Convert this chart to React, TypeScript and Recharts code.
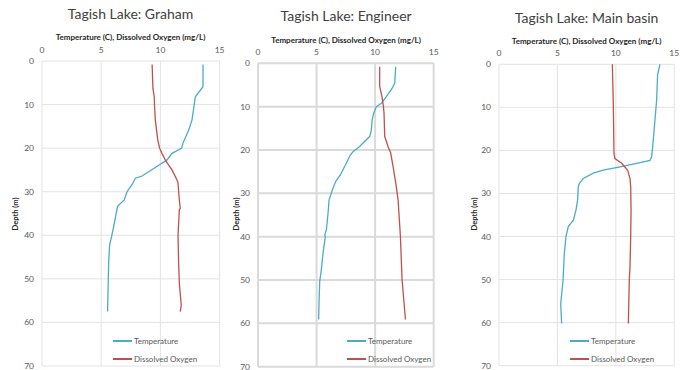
import { CartesianGrid, Line, LineChart, XAxis, YAxis } from 'recharts';

// [depth (m), value]
const grahamTemperature: [number, number][] = [
  [0.8, 13.6], [5.9, 13.6], [8.2, 12.95], [10, 12.86], [13.5, 12.67], [15.8, 12.4],
  [18.9, 11.9], [20, 11.8], [21.2, 10.98], [22.7, 10.56], [24.2, 9.7], [25.4, 9.0],
  [26.4, 8.45], [26.9, 7.88], [28.4, 7.6], [30, 7.18], [31.9, 6.95], [33.3, 6.39],
  [38, 6.05], [40, 5.9], [42.2, 5.71], [46.4, 5.63], [57.5, 5.54],
];
const grahamOxygen: [number, number][] = [
  [0.8, 9.3], [6.3, 9.37], [8.2, 9.48], [10, 9.5], [13.5, 9.57], [18, 9.77], [20, 9.93],
  [21.2, 10.13], [23, 10.47], [25, 10.98], [27.3, 11.4], [28, 11.49], [30, 11.54],
  [31.9, 11.6], [33.8, 11.68], [34.2, 11.6], [40, 11.49], [46.4, 11.54], [51, 11.6],
  [56, 11.76], [57.5, 11.68],
];

const engineerTemperature: [number, number][] = [
  [0.8, 11.76], [4.6, 11.67], [5.8, 11.44], [7.7, 10.96], [9.2, 10.54], [10, 10.1],
  [11.5, 9.88], [13.1, 9.74], [15.4, 9.68], [16.9, 9.54], [18, 9.11], [19.2, 8.68],
  [20.4, 8.11], [21.1, 7.89], [22.7, 7.6], [24.2, 7.32], [25.7, 7.04], [27.3, 6.63],
  [29.2, 6.35], [31.5, 6.07], [34.6, 5.98], [38.4, 5.84], [39.6, 5.7], [40, 5.75],
  [43.8, 5.55], [47.6, 5.41], [50.3, 5.27], [55.3, 5.21], [59.1, 5.18],
];
const engineerOxygen: [number, number][] = [
  [0.8, 10.39], [5.4, 10.39], [7.7, 10.59], [10, 10.71], [11.5, 10.76], [16.9, 10.82],
  [19.2, 11.1], [20.7, 11.33], [23.8, 11.53], [27.6, 11.76], [31.5, 11.96], [40, 12.16],
  [49.9, 12.3], [59.1, 12.59],
];

const mainTemperature: [number, number][] = [
  [0, 13.77], [2.5, 13.57], [8.3, 13.49], [19.2, 13.15], [21.5, 13.06], [22.3, 12.92],
  [23, 11.78], [23.8, 10.35], [24.6, 8.92], [25.3, 8.07], [26.5, 7.21], [27.7, 6.87],
  [28.6, 6.78], [31.5, 6.73], [33.8, 6.59], [36.2, 6.36], [37.7, 5.93], [40, 5.73],
  [44, 5.59], [50.1, 5.48], [55.6, 5.28], [60.2, 5.36],
];
const mainOxygen: [number, number][] = [
  [0, 9.7], [9.1, 9.78], [20.7, 9.84], [21.9, 9.92], [23, 10.5], [24.6, 11.01],
  [26.5, 11.21], [28.5, 11.27], [33.8, 11.3], [40, 11.27], [47, 11.21], [50.1, 11.15],
  [60.2, 11.07],
];

const valueTicks = [0, 5, 10, 15];
const depthTicks = [0, 10, 20, 30, 40, 50, 60, 70];

const TEMP_COLOR = '#4BACC6';
const DO_COLOR = '#C0504D';
const FONT = 'Lato, "Open Sans", sans-serif';

interface PanelProps {
  title: string;
  temperature: [number, number][];
  oxygen: [number, number][];
  plotLeft: number;
  plotRight: number;
  plotTop: number;
  plotBottom: number;
  titleY: number;
  axisTitleY: number;
  depthLabelX: number;
  legendX: number;
  gridColor: string;
  gridWidth: number;
}

function toRows(points: [number, number][]) {
  return points.map(([depth, value]) => ({ depth, value }));
}

function LegendItem({ x, y, color, label }: { x: number; y: number; color: string; label: string }) {
  return (
    <div
      style={{
        position: 'absolute',
        left: x,
        top: y - 6,
        height: 12,
        display: 'flex',
        alignItems: 'center',
        fontSize: 8,
        color: '#595959',
        fontFamily: FONT,
        whiteSpace: 'nowrap',
      }}
    >
      <span style={{ display: 'inline-block', width: 19, height: 1.3, background: color, marginRight: 2 }} />
      {label}
    </div>
  );
}

function DepthPanel({
  title,
  temperature,
  oxygen,
  plotLeft,
  plotRight,
  plotTop,
  plotBottom,
  titleY,
  axisTitleY,
  depthLabelX,
  legendX,
  gridColor,
  gridWidth,
}: PanelProps) {
  const yAxisWidth = 40;
  const chartLeft = plotLeft - yAxisWidth;
  const width = plotRight - plotLeft + yAxisWidth + 6;
  const height = plotBottom + 5;
  const centerX = (plotLeft + plotRight) / 2;
  const tick = { fill: '#595959', fontSize: 8.5, fontFamily: FONT };

  return (
    <>
      <div
        style={{
          position: 'absolute',
          left: centerX - 100,
          width: 200,
          top: titleY - 9,
          textAlign: 'center',
          fontSize: 14,
          color: '#404040',
          fontFamily: FONT,
          lineHeight: '18px',
        }}
      >
        {title}
      </div>
      <div
        style={{
          position: 'absolute',
          left: centerX - 100,
          width: 200,
          top: axisTitleY - 5,
          textAlign: 'center',
          fontSize: 8,
          fontWeight: 'bold',
          color: '#262626',
          fontFamily: FONT,
          lineHeight: '10px',
        }}
      >
        Temperature (C), Dissolved Oxygen (mg/L)
      </div>
      <div
        style={{
          position: 'absolute',
          left: depthLabelX - 30,
          top: 209,
          width: 60,
          height: 10,
          transform: 'rotate(-90deg)',
          textAlign: 'center',
          fontSize: 7.5,
          fontWeight: 'bold',
          color: '#262626',
          fontFamily: FONT,
          lineHeight: '10px',
        }}
      >
        Depth (m)
      </div>
      <div style={{ position: 'absolute', left: chartLeft, top: 0 }}>
        <LineChart
          width={width}
          height={height}
          layout="vertical"
          margin={{ top: 0, right: 6, bottom: 5, left: 0 }}
        >
          <CartesianGrid stroke={gridColor} strokeWidth={gridWidth} />
          <XAxis
            type="number"
            orientation="top"
            domain={[0, 15]}
            ticks={valueTicks}
            height={plotTop}
            axisLine={false}
            tickLine={false}
            tick={tick}
          />
          <YAxis
            type="number"
            dataKey="depth"
            domain={[0, 70]}
            ticks={depthTicks}
            width={yAxisWidth}
            axisLine={false}
            tickLine={false}
            tick={tick}
          />
          <Line
            data={toRows(temperature)}
            dataKey="value"
            stroke={TEMP_COLOR}
            strokeWidth={1.3}
            dot={false}
            isAnimationActive={false}
          />
          <Line
            data={toRows(oxygen)}
            dataKey="value"
            stroke={DO_COLOR}
            strokeWidth={1.3}
            dot={false}
            isAnimationActive={false}
          />
        </LineChart>
      </div>
      <LegendItem x={legendX} y={341} color={TEMP_COLOR} label="Temperature" />
      <LegendItem x={legendX} y={359} color={DO_COLOR} label="Dissolved Oxygen" />
    </>
  );
}

export default function App() {
  return (
    <div
      style={{
        position: 'absolute',
        left: 0,
        top: 0,
        width: 688,
        height: 370,
        background: '#fff',
        overflow: 'hidden',
      }}
    >
      <DepthPanel
        title="Tagish Lake: Graham"
        temperature={grahamTemperature}
        oxygen={grahamOxygen}
        plotLeft={41.7}
        plotRight={219.3}
        plotTop={61}
        plotBottom={366}
        titleY={14}
        axisTitleY={37}
        depthLabelX={16}
        legendX={113}
        gridColor="#E3E3E3"
        gridWidth={1}
      />
      <DepthPanel
        title="Tagish Lake: Engineer"
        temperature={engineerTemperature}
        oxygen={engineerOxygen}
        plotLeft={258.3}
        plotRight={434}
        plotTop={63.3}
        plotBottom={366.7}
        titleY={16}
        axisTitleY={39.5}
        depthLabelX={237}
        legendX={347}
        gridColor="#DADADA"
        gridWidth={2}
      />
      <DepthPanel
        title="Tagish Lake: Main basin"
        temperature={mainTemperature}
        oxygen={mainOxygen}
        plotLeft={499}
        plotRight={674.3}
        plotTop={64.3}
        plotBottom={365.7}
        titleY={18}
        axisTitleY={41}
        depthLabelX={475}
        legendX={570}
        gridColor="#E3E3E3"
        gridWidth={1}
      />
    </div>
  );
}
